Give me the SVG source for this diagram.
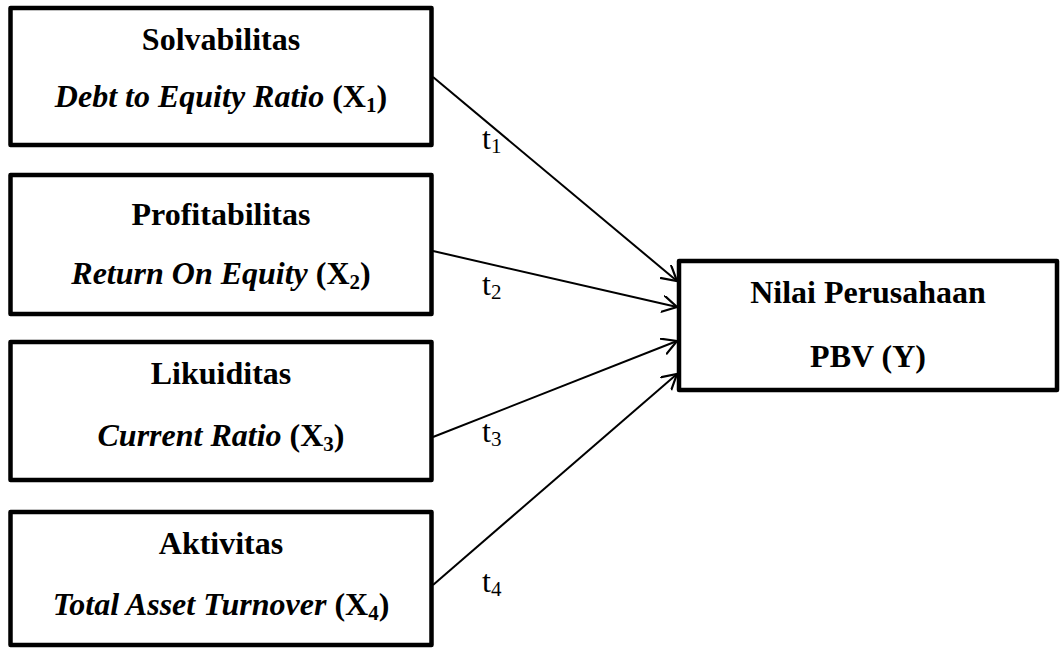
<svg xmlns="http://www.w3.org/2000/svg" width="1061" height="648" viewBox="0 0 1061 648">
<style>
.box{fill:#fff;stroke:#000;stroke-width:4.5;stroke-linejoin:round}
.t{font-family:"Liberation Serif","Times New Roman",serif;font-size:32px;font-weight:bold;fill:#000;text-anchor:middle}
.i{font-style:italic}
.sub{font-size:21px}
.lbl{font-family:"Liberation Serif","Times New Roman",serif;font-size:32px;fill:#000}
.conn{stroke:#000;stroke-width:2;fill:none}
</style>
<defs>
<marker id="arr" markerUnits="userSpaceOnUse" markerWidth="20" markerHeight="20" refX="15" refY="8.5" orient="auto">
<path d="M0,0 L15,8.5 L0,17" fill="none" stroke="#000" stroke-width="2.2"/>
</marker>
</defs>
<g id="x1">
<rect class="box" x="10.5" y="8" width="421" height="137"/>
<text class="t" x="221" y="50">Solvabilitas</text>
<text class="t" x="221" y="107"><tspan class="i">Debt to Equity Ratio</tspan> (X<tspan class="sub" dy="5">1</tspan><tspan dy="-5">)</tspan></text>
</g>
<g id="x2">
<rect class="box" x="10.5" y="175" width="421" height="139"/>
<text class="t" x="221" y="225">Profitabilitas</text>
<text class="t" x="221" y="284"><tspan class="i">Return On Equity</tspan> (X<tspan class="sub" dy="5">2</tspan><tspan dy="-5">)</tspan></text>
</g>
<g id="x3">
<rect class="box" x="10.5" y="342" width="421" height="138"/>
<text class="t" x="221" y="384">Likuiditas</text>
<text class="t" x="221" y="446"><tspan class="i">Current Ratio</tspan> (X<tspan class="sub" dy="5">3</tspan><tspan dy="-5">)</tspan></text>
</g>
<g id="x4">
<rect class="box" x="10.5" y="512" width="421" height="133"/>
<text class="t" x="221" y="554">Aktivitas</text>
<text class="t" x="221" y="615"><tspan class="i">Total Asset Turnover</tspan> (X<tspan class="sub" dy="5">4</tspan><tspan dy="-5">)</tspan></text>
</g>
<g id="y">
<rect class="box" x="679" y="261" width="378" height="129"/>
<text class="t" x="868" y="303">Nilai Perusahaan</text>
<text class="t" x="868" y="367">PBV (Y)</text>
</g>
<g id="connectors">
<line class="conn" x1="433" y1="77" x2="677" y2="281" marker-end="url(#arr)"/>
<line class="conn" x1="433" y1="251" x2="677" y2="307" marker-end="url(#arr)"/>
<line class="conn" x1="433" y1="437" x2="677" y2="341" marker-end="url(#arr)"/>
<line class="conn" x1="433" y1="585" x2="677" y2="374" marker-end="url(#arr)"/>
<text class="lbl" x="482" y="149">t<tspan class="sub" dy="4">1</tspan></text>
<text class="lbl" x="482" y="295">t<tspan class="sub" dy="4">2</tspan></text>
<text class="lbl" x="482" y="442">t<tspan class="sub" dy="4">3</tspan></text>
<text class="lbl" x="482" y="592">t<tspan class="sub" dy="4">4</tspan></text>
</g>
</svg>
